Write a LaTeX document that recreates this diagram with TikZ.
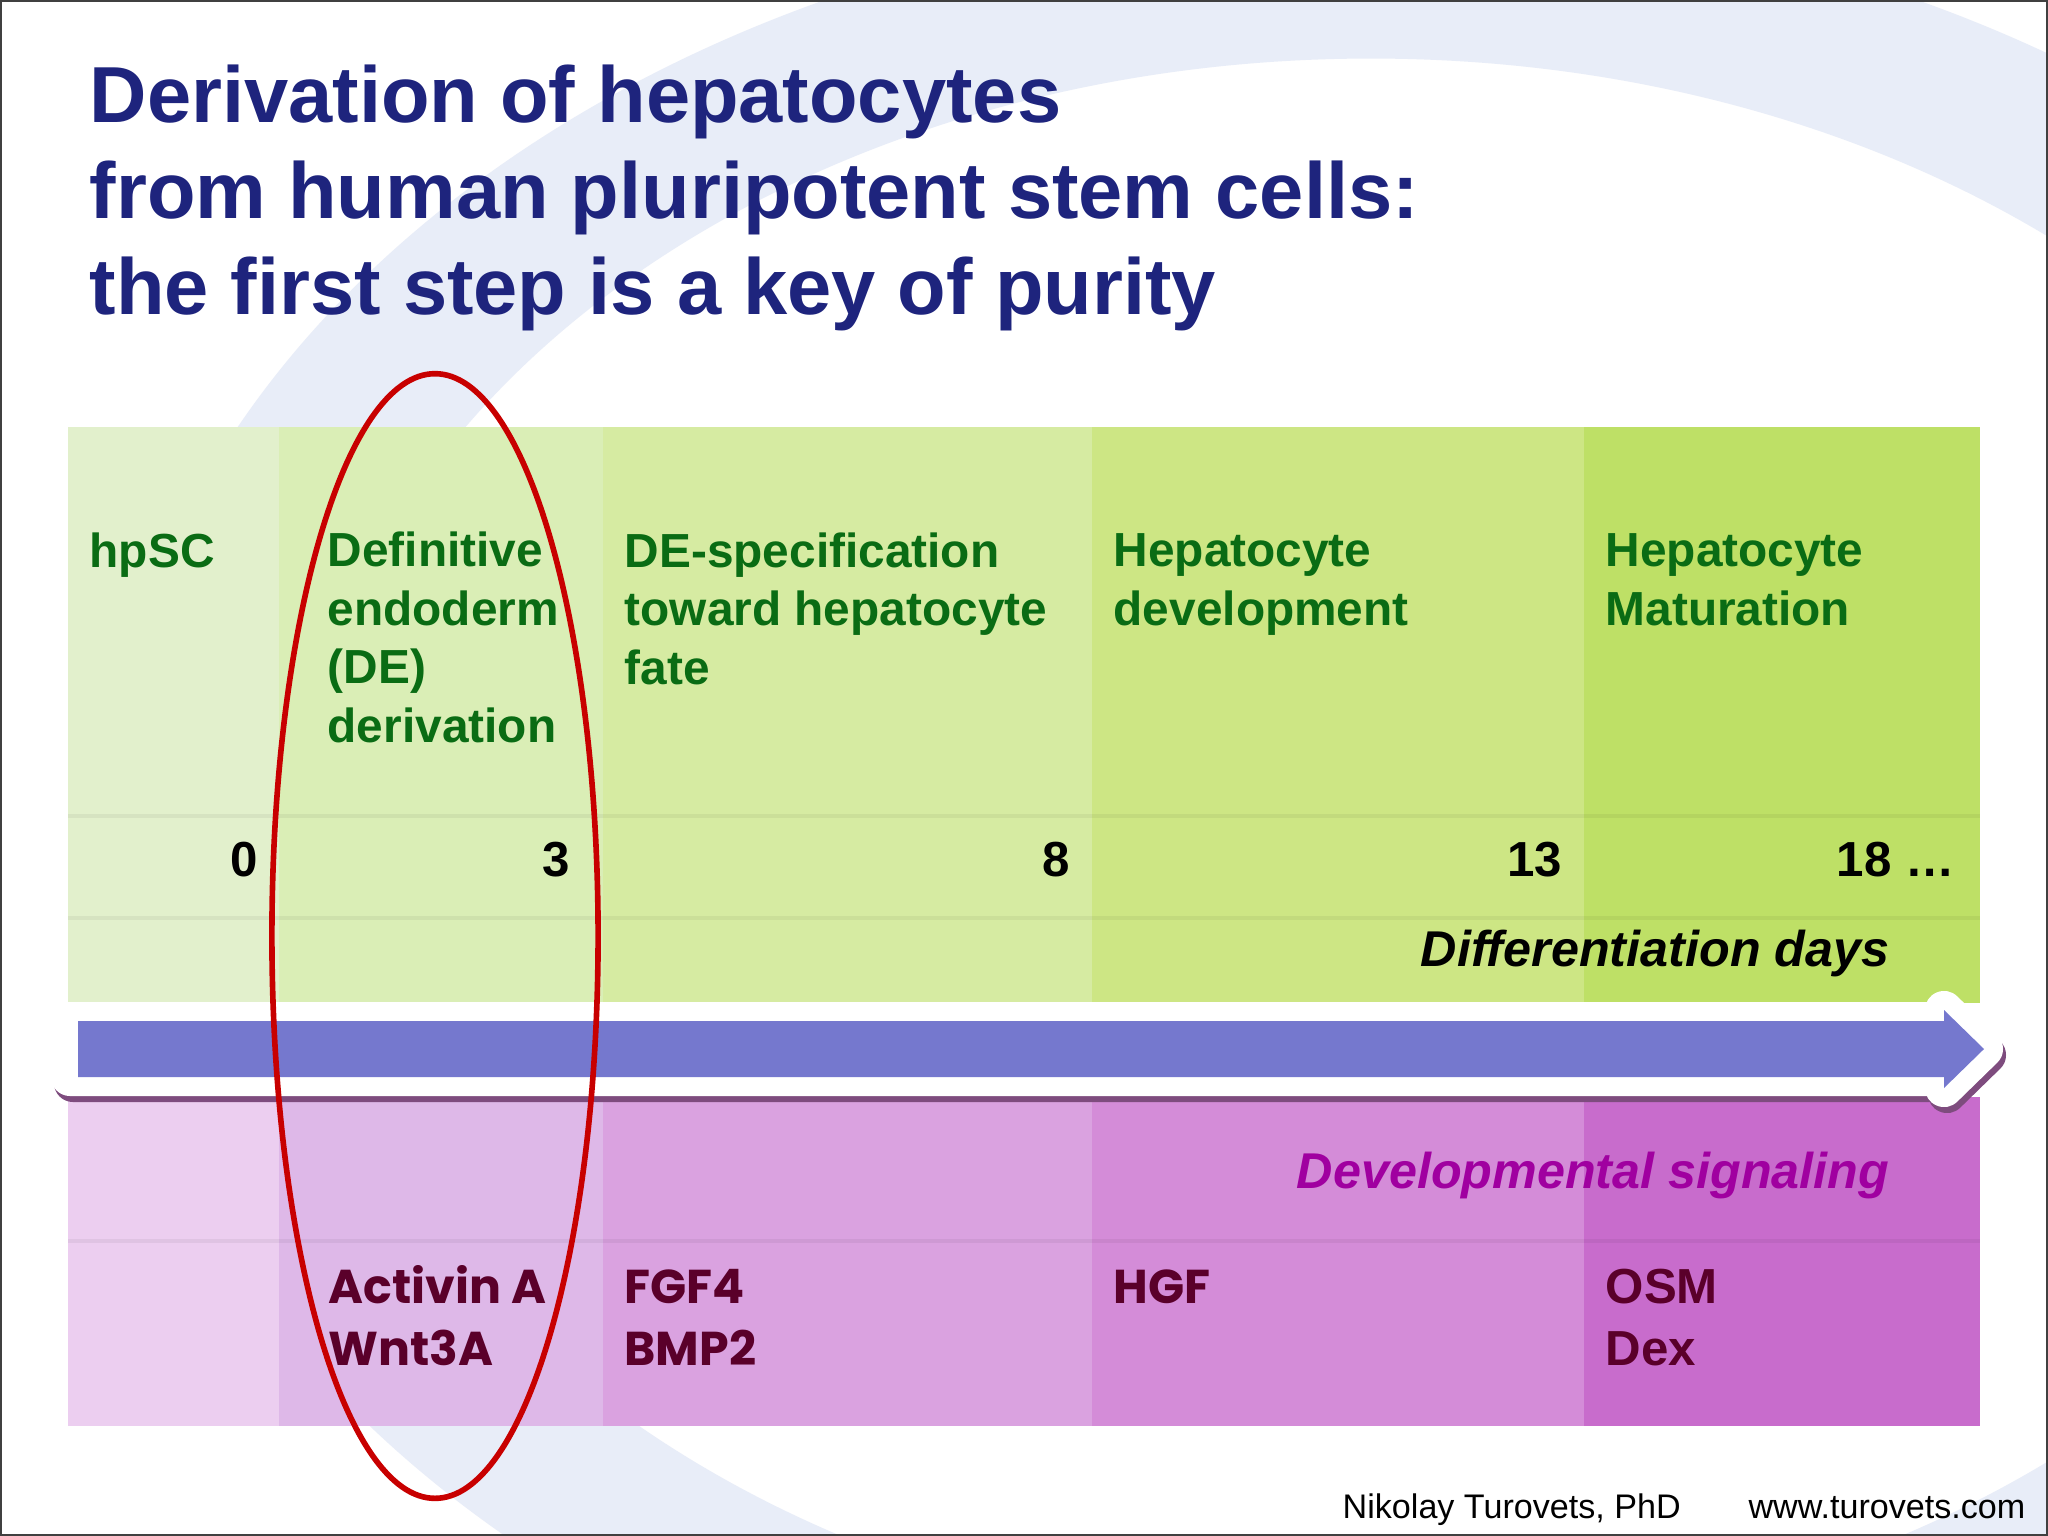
\documentclass[tikz,border=0pt]{standalone}
\usepackage{fontspec}
\setmainfont{Liberation Sans}
\newfontfamily\gothic{Poppins}

\definecolor{titleblue}{RGB}{30,36,125}
\definecolor{stagegreen}{RGB}{10,108,20}
\definecolor{signalred}{RGB}{90,0,42}
\definecolor{sigmagenta}{RGB}{160,0,160}
\definecolor{arrowblue}{RGB}{117,120,206}
\definecolor{ellipsered}{RGB}{200,0,0}
\definecolor{ringblue}{RGB}{232,237,248}
\definecolor{gA}{RGB}{226,240,204}
\definecolor{gB}{RGB}{218,238,182}
\definecolor{gC}{RGB}{214,235,162}
\definecolor{gD}{RGB}{205,230,132}
\definecolor{gE}{RGB}{190,224,102}
\definecolor{mA}{RGB}{236,206,240}
\definecolor{mB}{RGB}{222,184,232}
\definecolor{mC}{RGB}{218,162,224}
\definecolor{mD}{RGB}{212,140,216}
\definecolor{mE}{RGB}{200,108,204}

\begin{document}
\begin{tikzpicture}[x=0.01cm,y=-0.01cm]
%	\draw[step=100,gray!30] (0,0) grid (2048,1536);
%	\draw[red] (435,936) circle [radius=5pt];

	\tikzstyle{title} = [anchor=base west,align=left,inner sep=0pt,text=titleblue,font=\bfseries\fontsize{22.6}{27.2}\selectfont]
	\tikzstyle{stage} = [anchor=base west,align=left,inner sep=0pt,text=stagegreen,font=\bfseries\fontsize{13.6}{16.6}\selectfont]
	\tikzstyle{day} = [anchor=base east,inner sep=0pt,font=\bfseries\fontsize{14}{16}\selectfont]
	\tikzstyle{signal} = [anchor=base west,align=left,inner sep=0pt,text=signalred,font=\gothic\bfseries\fontsize{13.5}{17.6}\selectfont]
	\tikzstyle{footer} = [inner sep=0pt,font=\fontsize{9.7}{11}\selectfont]

	\useasboundingbox (0,0) rectangle (2048,1536);
	\fill[white] (0,0) rectangle (2048,1536);
	\begin{scope}
		\clip (0,0) rectangle (2048,1536);
		\fill[ringblue,even odd rule] (1371,849) ellipse [x radius=12.67cm,y radius=9.4cm] (1371,849) ellipse [x radius=10.7cm,y radius=7.9cm];
	\end{scope}

	\foreach \xa/\xb/\cg/\cm in {68/279/gA/mA,279/603/gB/mB,603/1092/gC/mC,1092/1584/gD/mD,1584/1980/gE/mE} {
		\fill[\cg] (\xa,427) rectangle (\xb,1003);
		\fill[\cm] (\xa,1097) rectangle (\xb,1426);
	}
	\foreach \y in {816,918,1241}
		\draw[black,opacity=0.05,line width=1.2pt] (68,\y) -- (1980,\y);

	\draw[black!45!violet!70,line width=0.38cm,line join=round,shift={(3,6)}] (70,1021) -- (1944,1021) -- (1944,1010) -- (1984,1049) -- (1944,1088) -- (1944,1077) -- (70,1077) -- cycle;
	\draw[white,line width=0.38cm,line join=round] (70,1021) -- (1944,1021) -- (1944,1010) -- (1984,1049) -- (1944,1088) -- (1944,1077) -- (70,1077) -- cycle;
	\fill[arrowblue] (78,1021) -- (1944,1021) -- (1944,1010) -- (1984,1049) -- (1944,1088) -- (1944,1077) -- (78,1077) -- cycle;

	\node[title] (title) at (89,314) {Derivation of hepatocytes\\from human pluripotent stem cells:\\the first step is a key of purity};

	\node[stage] (hpsc) at (89,567) {hpSC};
	\node[stage] (deriv) at (327,742) {Definitive\\endoderm\\(DE)\\derivation};
	\node[stage] (spec) at (624,684) {DE-specification\\toward hepatocyte\\fate};
	\node[stage] (devel) at (1113,625) {Hepatocyte\\development};
	\node[stage] (matur) at (1605,625) {Hepatocyte\\Maturation};

	\foreach \d/\x in {0/259,3/571,8/1071,13/1563}
		\node[day] (day\d) at (\x,876) {\d};
	\node[day] (day18) at (1955,876) {18 \dots};
	\node[anchor=base east,inner sep=0pt,font=\bfseries\itshape\fontsize{14.3}{16}\selectfont] (daylabel) at (1890,966) {Differentiation days};

	\node[anchor=base east,inner sep=0pt,text=sigmagenta,font=\bfseries\itshape\fontsize{14.3}{16}\selectfont] (siglabel) at (1890,1188) {Developmental signaling};
	\node[signal] (actwnt) at (328,1365) {Activin A\\Wnt3A};
	\node[signal] (fgfbmp) at (624,1365) {FGF4\\BMP2};
	\node[signal] (hgf) at (1113,1303) {HGF};
	\node[signal,font=\bfseries\fontsize{14}{17.6}\selectfont] (osmdex) at (1605,1365) {OSM\\Dex};

	\draw[ellipsered,line width=1.6pt] (435,936) ellipse [x radius=1.63cm,y radius=5.62cm];

	\node[footer,anchor=base west] (author) at (1342,1518) {Nikolay Turovets, PhD};
	\node[footer,anchor=base east] (site) at (2026,1518) {www.turovets.com};

	\draw[black!75,line width=1pt] (0,0) rectangle (2048,1536);
\end{tikzpicture}
\end{document}
